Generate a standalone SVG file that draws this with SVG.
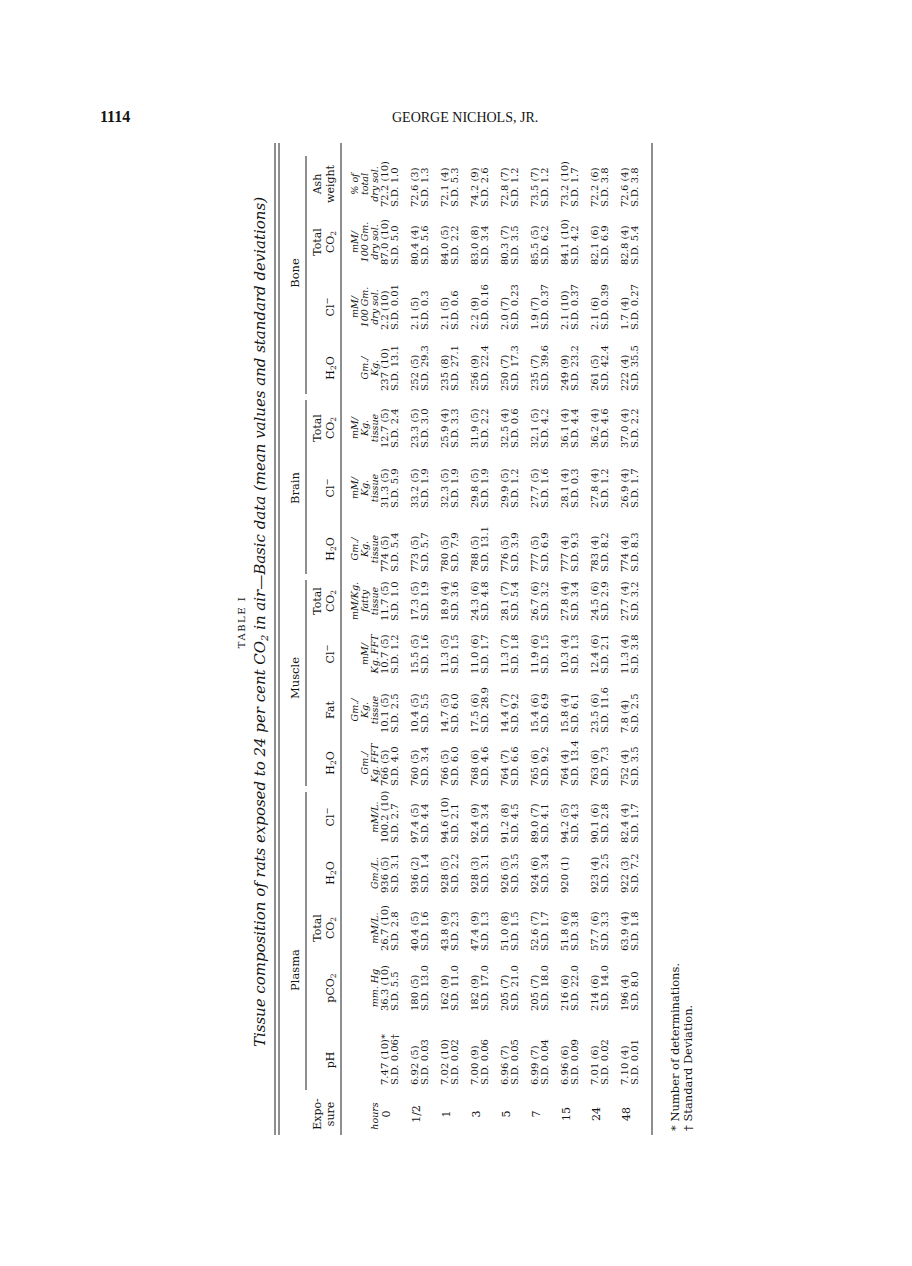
<svg xmlns="http://www.w3.org/2000/svg" width="912" height="1266" viewBox="0 0 912 1266">
<style>
text{font-family:"DejaVu Serif","Liberation Serif",serif;fill:#141414}
.v{font-size:10px}
.u{font-size:9.5px;font-style:italic;text-anchor:middle}
.h{font-size:11px;text-anchor:middle}
.g{font-size:11.5px;text-anchor:middle}
.r{font-size:11px;text-anchor:middle}
.ti{font-size:15px;font-style:italic;text-anchor:middle}
.tb{font-size:10px;letter-spacing:1.5px;text-anchor:middle}
.fn{font-size:11.5px}
.rule line{stroke:#1e1e1e;stroke-width:1}
</style>
<rect width="912" height="1266" fill="#fff"/>
<g id="page-header">
<text x="100" y="122" style="font-family:'Liberation Serif',serif;font-size:16px;font-weight:bold">1114</text>
<text x="392" y="122" style="font-family:'Liberation Serif',serif;font-size:14px">GEORGE NICHOLS, JR.</text>
</g>
<g id="table" transform="translate(0,1266) rotate(-90)">
<g id="caption">
<text class="tb" x="644" y="245">TABLE I</text>
<text class="ti" x="644" y="265" textLength="850">Tissue composition of rats exposed to 24 per cent CO<tspan font-size="10" dy="3">2</tspan><tspan dy="-3"> in air—Basic data (mean values and standard deviations)</tspan></text>
</g>
<g id="rules" class="rule">
<line x1="131" y1="275" x2="1123" y2="275"/>
<line x1="131" y1="279" x2="1123" y2="279"/>
<line x1="176" y1="306" x2="474" y2="306"/>
<line x1="480" y1="306" x2="686" y2="306"/>
<line x1="692" y1="306" x2="866" y2="306"/>
<line x1="872" y1="306" x2="1110" y2="306"/>
<line x1="131" y1="341" x2="1123" y2="341"/>
<line x1="131" y1="652" x2="1123" y2="652"/>
</g>
<g id="group-headers">
<text class="g" x="296" y="299">Plasma</text>
<text class="g" x="588" y="299">Muscle</text>
<text class="g" x="778" y="299">Brain</text>
<text class="g" x="993" y="299">Bone</text>
</g>
<g id="sub-headers">
<text class="h" x="152" y="321">Expo-</text><text class="h" x="152" y="334">sure</text>
<text class="h" x="206" y="334">pH</text>
<text class="h" x="278" y="334">pCO<tspan font-size="7.5" dy="2">2</tspan></text>
<text class="h" x="338" y="321">Total</text><text class="h" x="338" y="334">CO<tspan font-size="7.5" dy="2">2</tspan></text>
<text class="h" x="393" y="334">H<tspan font-size="7.5" dy="2">2</tspan><tspan dy="-2">O</tspan></text>
<text class="h" x="449" y="334">Cl<tspan font-size="8.5" dy="-4">−</tspan></text>
<text class="h" x="503" y="334">H<tspan font-size="7.5" dy="2">2</tspan><tspan dy="-2">O</tspan></text>
<text class="h" x="556" y="334">Fat</text>
<text class="h" x="612" y="334">Cl<tspan font-size="8.5" dy="-4">−</tspan></text>
<text class="h" x="665" y="321">Total</text><text class="h" x="665" y="334">CO<tspan font-size="7.5" dy="2">2</tspan></text>
<text class="h" x="717" y="334">H<tspan font-size="7.5" dy="2">2</tspan><tspan dy="-2">O</tspan></text>
<text class="h" x="778" y="334">Cl<tspan font-size="8.5" dy="-4">−</tspan></text>
<text class="h" x="838" y="321">Total</text><text class="h" x="838" y="334">CO<tspan font-size="7.5" dy="2">2</tspan></text>
<text class="h" x="898" y="334">H<tspan font-size="7.5" dy="2">2</tspan><tspan dy="-2">O</tspan></text>
<text class="h" x="959" y="334">Cl<tspan font-size="8.5" dy="-4">−</tspan></text>
<text class="h" x="1024" y="321">Total</text><text class="h" x="1024" y="334">CO<tspan font-size="7.5" dy="2">2</tspan></text>
<text class="h" x="1082" y="321">Ash</text><text class="h" x="1082" y="334">weight</text>
</g>
<g id="col-exposure">
<text class="u" x="150" y="378">hours</text>
<text class="r" x="152" y="390">0</text>
<text class="r" x="152" y="420">1/2</text>
<text class="r" x="152" y="450">1</text>
<text class="r" x="152" y="480">3</text>
<text class="r" x="152" y="510">5</text>
<text class="r" x="152" y="540">7</text>
<text class="r" x="152" y="570">15</text>
<text class="r" x="152" y="600">24</text>
<text class="r" x="152" y="630">48</text>
</g>
<g id="col-ph" class="v" transform="translate(181,0)">
<text y="388">7.47 (10)*</text><text y="398">S.D. 0.06†</text>
<text y="418">6.92 (5)</text><text y="428">S.D. 0.03</text>
<text y="448">7.02 (10)</text><text y="458">S.D. 0.02</text>
<text y="478">7.00 (9)</text><text y="488">S.D. 0.06</text>
<text y="508">6.96 (7)</text><text y="518">S.D. 0.05</text>
<text y="538">6.99 (7)</text><text y="548">S.D. 0.04</text>
<text y="568">6.96 (6)</text><text y="578">S.D. 0.09</text>
<text y="598">7.01 (6)</text><text y="608">S.D. 0.02</text>
<text y="628">7.10 (4)</text><text y="638">S.D. 0.01</text>
</g>
<g id="col-pco2" class="v" transform="translate(255,0)">
<text class="u" x="23" y="378">mm. Hg</text>
<text y="388">36.3 (10)</text><text y="398">S.D. 5.5</text>
<text y="418">180 (5)</text><text y="428">S.D. 13.0</text>
<text y="448">162 (9)</text><text y="458">S.D. 11.0</text>
<text y="478">182 (9)</text><text y="488">S.D. 17.0</text>
<text y="508">205 (7)</text><text y="518">S.D. 21.0</text>
<text y="538">205 (7)</text><text y="548">S.D. 18.0</text>
<text y="568">216 (6)</text><text y="578">S.D. 22.0</text>
<text y="598">214 (6)</text><text y="608">S.D. 14.0</text>
<text y="628">196 (4)</text><text y="638">S.D. 8.0</text>
</g>
<g id="col-plasma-co2" class="v" transform="translate(315,0)">
<text class="u" x="23" y="378">mM/L.</text>
<text y="388">26.7 (10)</text><text y="398">S.D. 2.8</text>
<text y="418">40.4 (5)</text><text y="428">S.D. 1.6</text>
<text y="448">43.8 (9)</text><text y="458">S.D. 2.3</text>
<text y="478">47.4 (9)</text><text y="488">S.D. 1.3</text>
<text y="508">51.0 (8)</text><text y="518">S.D. 1.5</text>
<text y="538">52.6 (7)</text><text y="548">S.D. 1.7</text>
<text y="568">51.8 (6)</text><text y="578">S.D. 3.8</text>
<text y="598">57.7 (6)</text><text y="608">S.D. 3.3</text>
<text y="628">63.9 (4)</text><text y="638">S.D. 1.8</text>
</g>
<g id="col-plasma-h2o" class="v" transform="translate(373,0)">
<text class="u" x="20" y="378">Gm./L.</text>
<text y="388">936 (5)</text><text y="398">S.D. 3.1</text>
<text y="418">936 (2)</text><text y="428">S.D. 1.4</text>
<text y="448">928 (5)</text><text y="458">S.D. 2.2</text>
<text y="478">928 (3)</text><text y="488">S.D. 3.1</text>
<text y="508">926 (5)</text><text y="518">S.D. 3.5</text>
<text y="538">924 (6)</text><text y="548">S.D. 3.4</text>
<text y="568">920 (1)</text>
<text y="598">923 (4)</text><text y="608">S.D. 2.5</text>
<text y="628">922 (3)</text><text y="638">S.D. 7.2</text>
</g>
<g id="col-plasma-cl" class="v" transform="translate(423,0)">
<text class="u" x="26" y="378">mM/L.</text>
<text y="388">100.2 (10)</text><text y="398">S.D. 2.7</text>
<text y="418">97.4 (5)</text><text y="428">S.D. 4.4</text>
<text y="448">94.6 (10)</text><text y="458">S.D. 2.1</text>
<text y="478">92.4 (9)</text><text y="488">S.D. 3.4</text>
<text y="508">91.2 (8)</text><text y="518">S.D. 4.5</text>
<text y="538">89.0 (7)</text><text y="548">S.D. 4.1</text>
<text y="568">94.2 (5)</text><text y="578">S.D. 4.3</text>
<text y="598">90.1 (6)</text><text y="608">S.D. 2.8</text>
<text y="628">82.4 (4)</text><text y="638">S.D. 1.7</text>
</g>
<g id="col-muscle-h2o" class="v" transform="translate(480,0)">
<text class="u" x="23" y="368">Gm./</text><text class="u" x="23" y="378">Kg. FFT</text>
<text y="388">766 (5)</text><text y="398">S.D. 4.0</text>
<text y="418">760 (5)</text><text y="428">S.D. 3.4</text>
<text y="448">766 (5)</text><text y="458">S.D. 6.0</text>
<text y="478">768 (6)</text><text y="488">S.D. 4.6</text>
<text y="508">764 (7)</text><text y="518">S.D. 6.6</text>
<text y="538">765 (6)</text><text y="548">S.D. 9.2</text>
<text y="568">764 (4)</text><text y="578">S.D. 13.4</text>
<text y="598">763 (6)</text><text y="608">S.D. 7.3</text>
<text y="628">752 (4)</text><text y="638">S.D. 3.5</text>
</g>
<g id="col-muscle-fat" class="v" transform="translate(533,0)">
<text class="u" x="23" y="358">Gm./</text><text class="u" x="23" y="368">Kg.</text><text class="u" x="23" y="378">tissue</text>
<text y="388">10.1 (5)</text><text y="398">S.D. 2.5</text>
<text y="418">10.4 (5)</text><text y="428">S.D. 5.5</text>
<text y="448">14.7 (5)</text><text y="458">S.D. 6.0</text>
<text y="478">17.5 (6)</text><text y="488">S.D. 28.9</text>
<text y="508">14.4 (7)</text><text y="518">S.D. 9.2</text>
<text y="538">15.4 (6)</text><text y="548">S.D. 6.9</text>
<text y="568">15.8 (4)</text><text y="578">S.D. 6.1</text>
<text y="598">23.5 (6)</text><text y="608">S.D. 11.6</text>
<text y="628">7.8 (4)</text><text y="638">S.D. 2.5</text>
</g>
<g id="col-muscle-cl" class="v" transform="translate(592,0)">
<text class="u" x="20" y="368">mM/</text><text class="u" x="20" y="378">Kg. FFT</text>
<text y="388">10.7 (5)</text><text y="398">S.D. 1.2</text>
<text y="418">15.5 (5)</text><text y="428">S.D. 1.6</text>
<text y="448">11.3 (5)</text><text y="458">S.D. 1.5</text>
<text y="478">11.0 (6)</text><text y="488">S.D. 1.7</text>
<text y="508">11.3 (7)</text><text y="518">S.D. 1.8</text>
<text y="538">11.9 (6)</text><text y="548">S.D. 1.5</text>
<text y="568">10.3 (4)</text><text y="578">S.D. 1.3</text>
<text y="598">12.4 (6)</text><text y="608">S.D. 2.1</text>
<text y="628">11.3 (4)</text><text y="638">S.D. 3.8</text>
</g>
<g id="col-muscle-co2" class="v" transform="translate(645,0)">
<text class="u" x="20" y="358">mM/Kg.</text><text class="u" x="20" y="368">fatty</text><text class="u" x="20" y="378">tissue</text>
<text y="388">11.7 (5)</text><text y="398">S.D. 1.0</text>
<text y="418">17.3 (5)</text><text y="428">S.D. 1.9</text>
<text y="448">18.9 (4)</text><text y="458">S.D. 3.6</text>
<text y="478">24.3 (6)</text><text y="488">S.D. 4.8</text>
<text y="508">28.1 (7)</text><text y="518">S.D. 5.4</text>
<text y="538">26.7 (6)</text><text y="548">S.D. 3.2</text>
<text y="568">27.8 (4)</text><text y="578">S.D. 3.4</text>
<text y="598">24.5 (6)</text><text y="608">S.D. 2.9</text>
<text y="628">27.7 (4)</text><text y="638">S.D. 3.2</text>
</g>
<g id="col-brain-h2o" class="v" transform="translate(694,0)">
<text class="u" x="23" y="358">Gm./</text><text class="u" x="23" y="368">Kg.</text><text class="u" x="23" y="378">tissue</text>
<text y="388">774 (5)</text><text y="398">S.D. 5.4</text>
<text y="418">773 (5)</text><text y="428">S.D. 5.7</text>
<text y="448">780 (5)</text><text y="458">S.D. 7.9</text>
<text y="478">788 (5)</text><text y="488">S.D. 13.1</text>
<text y="508">776 (5)</text><text y="518">S.D. 3.9</text>
<text y="538">777 (5)</text><text y="548">S.D. 6.9</text>
<text y="568">777 (4)</text><text y="578">S.D. 9.3</text>
<text y="598">783 (4)</text><text y="608">S.D. 8.2</text>
<text y="628">774 (4)</text><text y="638">S.D. 8.3</text>
</g>
<g id="col-brain-cl" class="v" transform="translate(758,0)">
<text class="u" x="20" y="358">mM/</text><text class="u" x="20" y="368">Kg.</text><text class="u" x="20" y="378">tissue</text>
<text y="388">31.3 (5)</text><text y="398">S.D. 5.9</text>
<text y="418">33.2 (5)</text><text y="428">S.D. 1.9</text>
<text y="448">32.3 (5)</text><text y="458">S.D. 1.9</text>
<text y="478">29.8 (5)</text><text y="488">S.D. 1.9</text>
<text y="508">29.9 (5)</text><text y="518">S.D. 1.2</text>
<text y="538">27.7 (5)</text><text y="548">S.D. 1.6</text>
<text y="568">28.1 (4)</text><text y="578">S.D. 0.3</text>
<text y="598">27.8 (4)</text><text y="608">S.D. 1.2</text>
<text y="628">26.9 (4)</text><text y="638">S.D. 1.7</text>
</g>
<g id="col-brain-co2" class="v" transform="translate(818,0)">
<text class="u" x="20" y="358">mM/</text><text class="u" x="20" y="368">Kg.</text><text class="u" x="20" y="378">tissue</text>
<text y="388">12.7 (5)</text><text y="398">S.D. 2.4</text>
<text y="418">23.3 (5)</text><text y="428">S.D. 3.0</text>
<text y="448">25.9 (4)</text><text y="458">S.D. 3.3</text>
<text y="478">31.9 (5)</text><text y="488">S.D. 2.2</text>
<text y="508">32.5 (4)</text><text y="518">S.D. 0.6</text>
<text y="538">32.1 (5)</text><text y="548">S.D. 4.2</text>
<text y="568">36.1 (4)</text><text y="578">S.D. 4.4</text>
<text y="598">36.2 (4)</text><text y="608">S.D. 4.6</text>
<text y="628">37.0 (4)</text><text y="638">S.D. 2.2</text>
</g>
<g id="col-bone-h2o" class="v" transform="translate(875,0)">
<text class="u" x="23" y="368">Gm./</text><text class="u" x="23" y="378">Kg.</text>
<text y="388">237 (10)</text><text y="398">S.D. 13.1</text>
<text y="418">252 (5)</text><text y="428">S.D. 29.3</text>
<text y="448">235 (8)</text><text y="458">S.D. 27.1</text>
<text y="478">256 (9)</text><text y="488">S.D. 22.4</text>
<text y="508">250 (7)</text><text y="518">S.D. 17.3</text>
<text y="538">235 (7)</text><text y="548">S.D. 39.6</text>
<text y="568">249 (9)</text><text y="578">S.D. 23.2</text>
<text y="598">261 (5)</text><text y="608">S.D. 42.4</text>
<text y="628">222 (4)</text><text y="638">S.D. 35.5</text>
</g>
<g id="col-bone-cl" class="v" transform="translate(936,0)">
<text class="u" x="23" y="358">mM/</text><text class="u" x="23" y="368">100 Gm.</text><text class="u" x="23" y="378">dry sol.</text>
<text y="388">2.2 (10)</text><text y="398">S.D. 0.01</text>
<text y="418">2.1 (5)</text><text y="428">S.D. 0.3</text>
<text y="448">2.1 (5)</text><text y="458">S.D. 0.6</text>
<text y="478">2.2 (9)</text><text y="488">S.D. 0.16</text>
<text y="508">2.0 (7)</text><text y="518">S.D. 0.23</text>
<text y="538">1.9 (7)</text><text y="548">S.D. 0.37</text>
<text y="568">2.1 (10)</text><text y="578">S.D. 0.37</text>
<text y="598">2.1 (6)</text><text y="608">S.D. 0.39</text>
<text y="628">1.7 (4)</text><text y="638">S.D. 0.27</text>
</g>
<g id="col-bone-co2" class="v" transform="translate(1001,0)">
<text class="u" x="23" y="358">mM/</text><text class="u" x="23" y="368">100 Gm.</text><text class="u" x="23" y="378">dry sol.</text>
<text y="388">87.0 (10)</text><text y="398">S.D. 5.0</text>
<text y="418">80.4 (4)</text><text y="428">S.D. 5.6</text>
<text y="448">84.0 (5)</text><text y="458">S.D. 2.2</text>
<text y="478">83.0 (8)</text><text y="488">S.D. 3.4</text>
<text y="508">80.3 (7)</text><text y="518">S.D. 3.5</text>
<text y="538">85.5 (5)</text><text y="548">S.D. 6.2</text>
<text y="568">84.1 (10)</text><text y="578">S.D. 4.2</text>
<text y="598">82.1 (6)</text><text y="608">S.D. 6.9</text>
<text y="628">82.8 (4)</text><text y="638">S.D. 5.4</text>
</g>
<g id="col-ash" class="v" transform="translate(1059,0)">
<text class="u" x="23" y="358">% of</text><text class="u" x="23" y="368">total</text><text class="u" x="23" y="378">dry sol.</text>
<text y="388">72.2 (10)</text><text y="398">S.D. 1.0</text>
<text y="418">72.6 (3)</text><text y="428">S.D. 1.3</text>
<text y="448">72.1 (4)</text><text y="458">S.D. 5.3</text>
<text y="478">74.2 (9)</text><text y="488">S.D. 2.6</text>
<text y="508">72.8 (7)</text><text y="518">S.D. 1.2</text>
<text y="538">73.5 (7)</text><text y="548">S.D. 1.2</text>
<text y="568">73.2 (10)</text><text y="578">S.D. 1.7</text>
<text y="598">72.2 (6)</text><text y="608">S.D. 3.8</text>
<text y="628">72.6 (4)</text><text y="638">S.D. 3.8</text>
</g>
<g id="footnotes">
<text class="fn" x="135" y="679">* Number of determinations.</text>
<text class="fn" x="135" y="692">† Standard Deviation.</text>
</g>
</g>
</svg>
